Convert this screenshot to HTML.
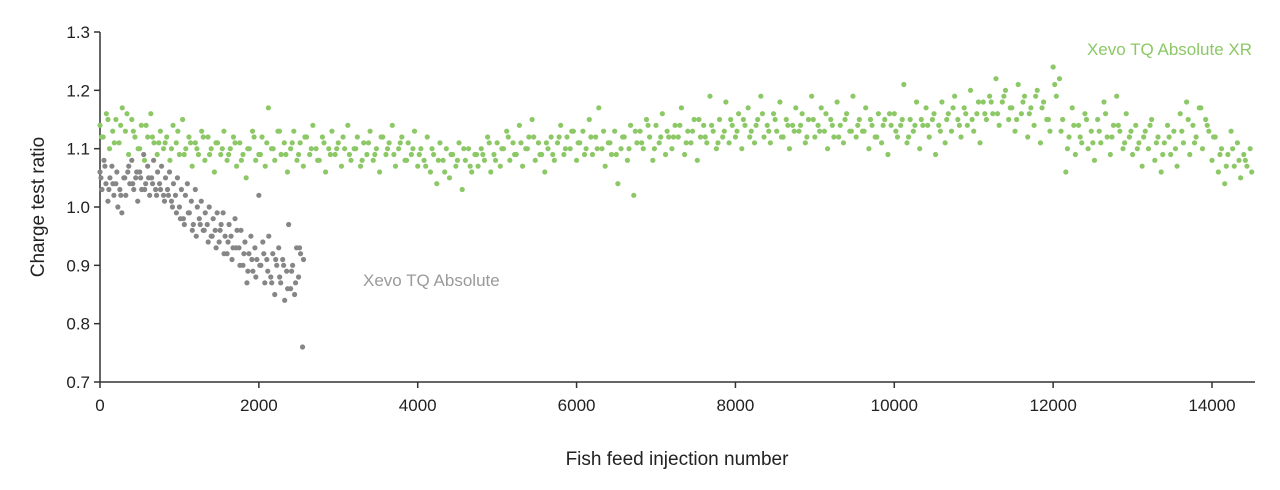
<!DOCTYPE html>
<html><head><meta charset="utf-8"><style>
html,body{margin:0;padding:0;background:#fff;}
svg{display:block;font-family:"Liberation Sans",Arial,sans-serif;}
</style></head><body>
<svg id="chart" width="1280" height="490" viewBox="0 0 1280 490">
<g id="axes"></g>
<g id="gray"></g>
<g id="green"></g>
<text x="0" y="0" transform="translate(44,207) rotate(-90)" text-anchor="middle" font-size="19" fill="#222">Charge test ratio</text>
<text x="677" y="465" text-anchor="middle" font-size="19" fill="#222">Fish feed injection number</text>
<text x="1252" y="55" text-anchor="end" font-size="17" fill="#8cc866">Xevo TQ Absolute XR</text>
<text x="363" y="286" font-size="17" fill="#9a9a9a">Xevo TQ Absolute</text>
</svg>
<script>
const xTicks=[0,2000,4000,6000,8000,10000,12000,14000];
const yTicks=[0.7,0.8,0.9,1.0,1.1,1.2,1.3];
const greenStep=40;
const greenValues=[
1.14,1.12,1.16,1.10,1.13,1.15,1.11,1.17,1.13,1.09,
1.15,1.12,1.10,1.14,1.08,1.12,1.16,1.11,1.09,1.13,
1.10,1.12,1.08,1.14,1.11,1.09,1.15,1.10,1.12,1.07,
1.11,1.09,1.13,1.08,1.12,1.10,1.06,1.11,1.09,1.13,
1.08,1.10,1.12,1.07,1.11,1.09,1.05,1.10,1.13,1.08,
1.09,1.12,1.07,1.17,1.10,1.08,1.13,1.09,1.11,1.06,
1.10,1.13,1.08,1.11,1.07,1.12,1.09,1.14,1.10,1.08,
1.12,1.06,1.10,1.13,1.09,1.11,1.07,1.10,1.14,1.08,
1.10,1.12,1.07,1.11,1.09,1.13,1.08,1.10,1.06,1.12,
1.09,1.11,1.14,1.07,1.10,1.12,1.08,1.11,1.09,1.13,
1.07,1.10,1.08,1.12,1.06,1.09,1.04,1.11,1.08,1.10,
1.05,1.09,1.07,1.11,1.03,1.08,1.10,1.06,1.09,1.07,
1.10,1.08,1.12,1.06,1.09,1.11,1.07,1.10,1.13,1.08,
1.11,1.09,1.14,1.07,1.10,1.12,1.15,1.08,1.11,1.09,
1.06,1.10,1.12,1.08,1.11,1.14,1.09,1.12,1.10,1.13,
1.08,1.11,1.13,1.10,1.15,1.09,1.12,1.17,1.10,1.07,
1.11,1.09,1.13,1.04,1.10,1.12,1.08,1.14,1.02,1.11,
1.13,1.10,1.15,1.12,1.08,1.14,1.11,1.16,1.09,1.12,
1.10,1.14,1.12,1.17,1.09,1.13,1.11,1.15,1.08,1.12,
1.14,1.11,1.19,1.13,1.10,1.15,1.12,1.18,1.11,1.14,
1.12,1.16,1.10,1.14,1.17,1.13,1.11,1.15,1.19,1.12,
1.14,1.11,1.16,1.13,1.18,1.12,1.15,1.10,1.14,1.17,
1.13,1.16,1.11,1.15,1.19,1.12,1.14,1.17,1.13,1.10,
1.15,1.12,1.18,1.14,1.11,1.16,1.13,1.19,1.12,1.15,
1.13,1.17,1.10,1.14,1.12,1.16,1.11,1.15,1.09,1.14,
1.16,1.12,1.14,1.21,1.11,1.15,1.13,1.18,1.10,1.14,
1.17,1.12,1.15,1.09,1.14,1.18,1.11,1.16,1.13,1.19,
1.15,1.12,1.17,1.14,1.20,1.13,1.16,1.11,1.18,1.15,
1.19,1.16,1.22,1.14,1.18,1.20,1.15,1.17,1.13,1.21,
1.16,1.19,1.12,1.17,1.14,1.20,1.11,1.18,1.15,1.13,
1.24,1.19,1.22,1.15,1.06,1.12,1.17,1.09,1.14,1.11,
1.16,1.10,1.13,1.08,1.15,1.11,1.18,1.12,1.09,1.14,
1.19,1.13,1.10,1.16,1.12,1.09,1.14,1.11,1.07,1.13,
1.10,1.15,1.08,1.12,1.06,1.11,1.14,1.09,1.13,1.07,
1.16,1.11,1.18,1.09,1.14,1.12,1.17,1.10,1.15,1.13,
1.08,1.12,1.06,1.10,1.04,1.09,1.13,1.07,1.11,1.05,
1.09,1.07,1.10];
const greenStepB=80;
const greenOffsetB=20;
const greenValuesB=[
1.12,1.15,1.11,1.14,1.16,1.13,1.10,1.14,1.12,1.11,
1.11,1.10,1.13,1.09,1.11,1.10,1.12,1.09,1.11,1.10,
1.09,1.11,1.08,1.10,1.12,1.09,1.11,1.10,1.13,1.09,
1.11,1.09,1.12,1.10,1.08,1.11,1.09,1.10,1.12,1.09,
1.10,1.08,1.11,1.09,1.12,1.10,1.09,1.11,1.08,1.10,
1.09,1.07,1.10,1.08,1.06,1.09,1.08,1.10,1.07,1.09,
1.09,1.11,1.08,1.10,1.12,1.09,1.11,1.10,1.12,1.09,
1.11,1.09,1.12,1.10,1.13,1.11,1.09,1.12,1.10,1.13,
1.11,1.09,1.12,1.10,1.13,1.11,1.14,1.10,1.12,1.13,
1.12,1.14,1.11,1.13,1.15,1.12,1.14,1.11,1.13,1.15,
1.13,1.15,1.12,1.14,1.16,1.13,1.15,1.12,1.14,1.13,
1.14,1.12,1.15,1.13,1.16,1.14,1.12,1.15,1.13,1.14,
1.13,1.15,1.12,1.14,1.16,1.13,1.15,1.12,1.14,1.15,
1.14,1.16,1.13,1.15,1.17,1.14,1.16,1.15,1.18,1.16,
1.18,1.16,1.19,1.17,1.15,1.18,1.16,1.19,1.17,1.15,
1.21,1.13,1.10,1.14,1.12,1.15,1.11,1.13,1.16,1.12,
1.14,1.11,1.13,1.10,1.12,1.14,1.11,1.09,1.12,1.10,
1.13,1.15,1.11,1.17,1.14,1.12,1.09,1.07,1.10,1.08,
1.08,1.06];
const grayStep=25;
const grayValues=[
1.06,1.03,1.08,1.04,1.01,1.05,1.07,1.02,1.04,1.00,
1.03,0.99,1.05,1.02,1.06,1.04,1.08,1.03,1.05,1.01,
1.06,1.03,1.09,1.04,1.07,1.02,1.05,1.08,1.03,1.06,
1.04,1.07,1.02,1.05,1.03,1.06,1.01,1.04,1.02,1.05,
1.00,1.03,0.98,1.02,1.04,0.99,1.01,0.97,1.03,1.00,
0.98,1.01,0.96,0.99,0.97,1.00,0.95,0.98,0.96,0.99,
0.94,0.97,0.99,0.95,0.92,0.97,0.95,0.93,0.98,0.96,
0.93,0.96,0.90,0.94,0.87,0.92,0.95,0.89,0.93,0.91,
1.02,0.90,0.94,0.87,0.91,0.95,0.88,0.92,0.85,0.90,
0.93,0.87,0.91,0.84,0.89,0.97,0.86,0.90,0.85,0.93,
0.88,0.92,0.76];
const grayStepB=50;
const grayOffsetB=12;
const grayValuesB=[
1.05,1.07,1.03,1.04,1.06,1.02,1.05,1.07,1.04,1.06,
1.05,1.03,1.05,1.04,1.02,1.03,1.01,1.02,1.00,0.99,
0.98,0.97,0.99,0.96,0.95,0.97,0.96,0.94,0.95,0.93,
0.96,0.92,0.94,0.91,0.93,0.90,0.92,0.89,0.91,0.88,
0.90,0.92,0.89,0.87,0.91,0.88,0.90,0.86,0.89,0.87,
0.93,0.91];
const NS="http://www.w3.org/2000/svg";
const X0=100,X1=1255,Y0=382,Y1=32;
function xs(v){return X0+v*(1212-X0)/14000;}
function ys(v){return Y0-(v-0.7)*(Y0-Y1)/0.6;}
function mk(tag,attrs,parent){const e=document.createElementNS(NS,tag);for(const k in attrs)e.setAttribute(k,attrs[k]);parent.appendChild(e);return e;}
const axes=document.getElementById('axes');
let a=mk('line',{x1:X0,y1:Y1,x2:X0,y2:Y0,stroke:'#333','stroke-width':1.5},axes);


a=mk('line',{x1:X0,y1:Y0,x2:X1,y2:Y0,stroke:'#333','stroke-width':1.5},axes);


yTicks.forEach(t=>{
 const y=ys(t);
 const l=mk('line',{x1:X0-6,y1:y,x2:X0,y2:y,stroke:'#333','stroke-width':1.5},axes);
 
 
 const tx=mk('text',{x:X0-10,y:y+6,'text-anchor':'end','font-size':17,fill:'#222'},axes);
 tx.textContent=t.toFixed(1);
 
 
});
xTicks.forEach(t=>{
 const x=xs(t);
 const l=mk('line',{x1:x,y1:Y0,x2:x,y2:Y0+6,stroke:'#333','stroke-width':1.5},axes);
 
 
 const tx=mk('text',{x:x,y:Y0+29,'text-anchor':'middle','font-size':17,fill:'#222'},axes);
 tx.textContent=String(t);
 
 
});
const gg=document.getElementById('gray');
function grayDot(x,v){
 const c=mk('circle',{cx:xs(x),cy:ys(v),r:2.6,fill:'#868686'},gg);
 
 
}
grayValues.forEach((v,i)=>grayDot(i*grayStep,v));
grayValuesB.forEach((v,i)=>grayDot(grayOffsetB+i*grayStepB,v));
const gr=document.getElementById('green');
function greenDot(x,v){
 const c=mk('circle',{cx:xs(x),cy:ys(v),r:2.6,fill:'#8cc866'},gr);
 
 
}
greenValues.forEach((v,i)=>greenDot(i*greenStep,v));
greenValuesB.forEach((v,i)=>greenDot(greenOffsetB+i*greenStepB,v));
</script>
</body></html>
